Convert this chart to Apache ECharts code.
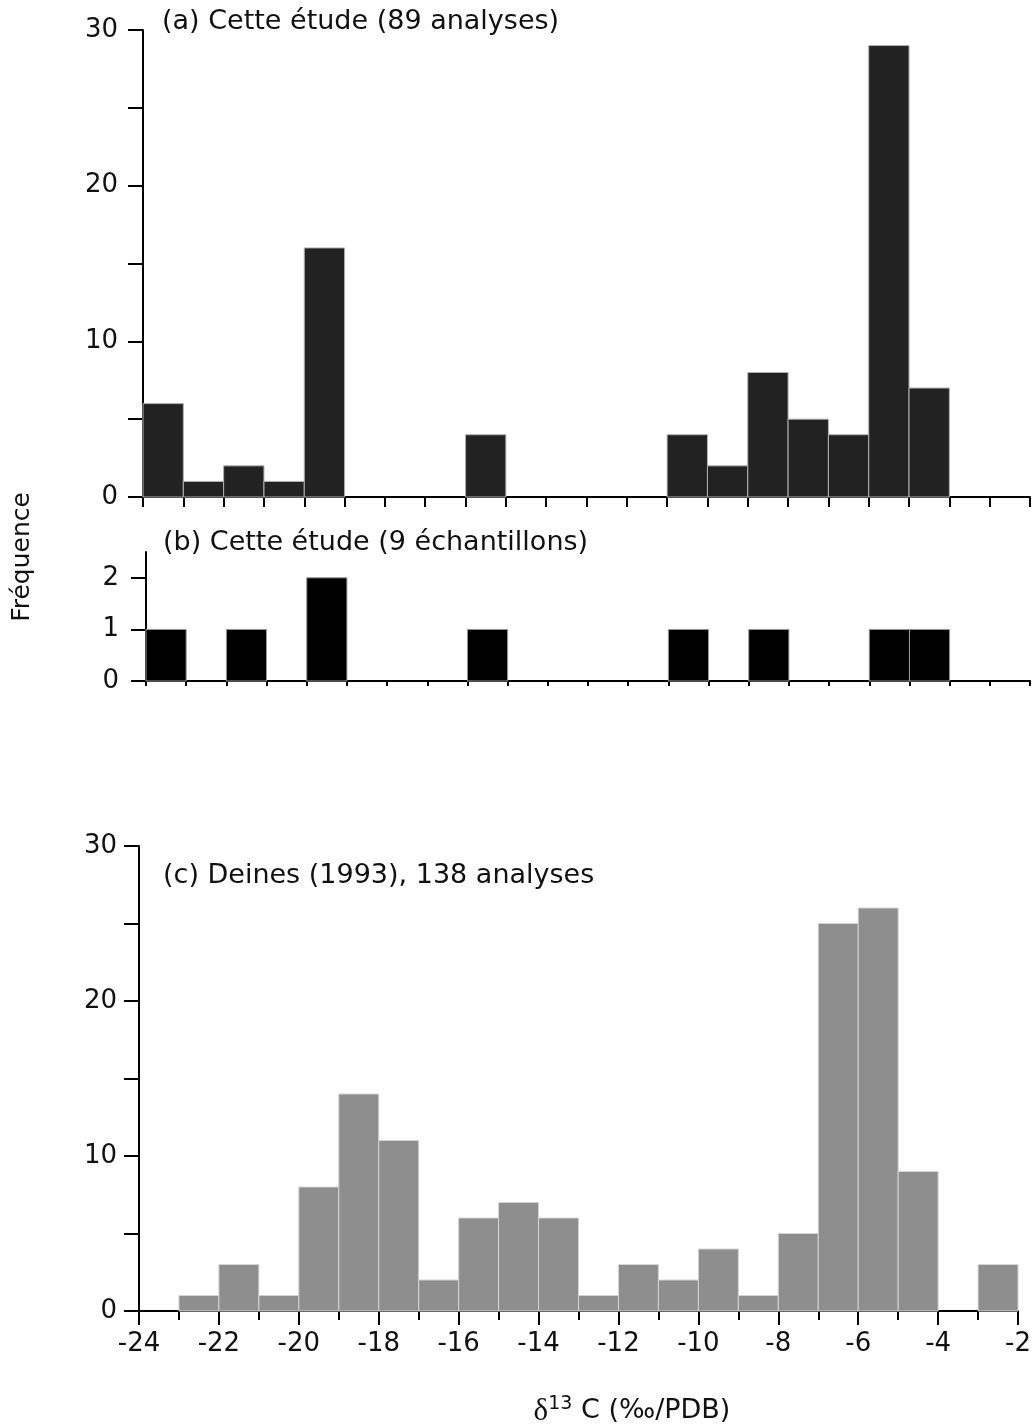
<!DOCTYPE html>
<html>
<head>
<meta charset="utf-8">
<script src="https://cdn.jsdelivr.net/npm/echarts@6/dist/echarts.min.js"></script>
<style>
  html, body { margin: 0; padding: 0; background: #fff; }
  #chart { width: 1034px; height: 1426px; }
</style>
</head>
<body>
<div id="chart"></div>
<script>
// left edge of each 1 ‰ bin
const binStarts = [-24, -23, -22, -21, -20, -19, -18, -17, -16, -15, -14,
                   -13, -12, -11, -10, -9, -8, -7, -6, -5, -4, -3];
// (a) Cette étude, 89 analyses
const countsA = [6, 1, 2, 1, 16, 0, 0, 0, 4, 0, 0, 0, 0, 4, 2, 8, 5, 4, 29, 7, 0, 0];
// (b) Cette étude, 9 échantillons
const countsB = [1, 0, 1, 0, 2, 0, 0, 0, 1, 0, 0, 0, 0, 1, 0, 1, 0, 0, 1, 1, 0, 0];
// (c) Deines (1993), 138 analyses
const countsC = [0, 1, 3, 1, 8, 14, 11, 2, 6, 7, 6, 1, 3, 2, 4, 1, 5, 25, 26, 9, 0, 3];

const titles = ['(a) Cette étude (89 analyses)', '(b) Cette étude (9 échantillons)', '(c) Deines (1993), 138 analyses'];
const yLabelsBig = [0, 10, 20, 30];
const yTicksBig = [0, 5, 10, 15, 20, 25, 30];
const yLabelsSmall = [0, 1, 2];

const FONT = 'DejaVu Sans';
const FS = 26;      // tick labels
const FT = 27;      // panel titles

let myChart = echarts.init(document.getElementById('chart'));

function binRenderer(fill, edge) {
    return function (params, api) {
        let x0 = api.value(0);
        let n = api.value(1);
        if (!n) return;
        let p0 = api.coord([x0, 0]);
        let p1 = api.coord([x0 + 1, n]);
        return {
            type: 'rect',
            shape: { x: p0[0], y: p1[1], width: p1[0] - p0[0], height: p0[1] - p1[1] },
            style: { fill: fill, stroke: edge, lineWidth: 1 }
        };
    };
}

function pairs(counts) {
    return binStarts.map((b, i) => [b, counts[i]]);
}

const axisLine = { show: true, onZero: false, lineStyle: { color: '#000', width: 2 } };

let option = {
    animation: false,
    backgroundColor: '#fff',
    grid: [
        { left: 143, top: 30, width: 887, height: 467 },
        { left: 146, top: 552, width: 884, height: 129 },
        { left: 139, top: 846, width: 884, height: 465 }
    ],
    xAxis: [
        {
            gridIndex: 0, type: 'value', min: -24, max: -2, interval: 1,
            axisLine: axisLine,
            axisTick: { show: true, length: 10, lineStyle: { color: '#000', width: 2 } },
            axisLabel: { show: false },
            splitLine: { show: false }
        },
        {
            gridIndex: 1, type: 'value', min: -24, max: -2, interval: 1,
            axisLine: axisLine,
            axisTick: { show: true, length: 5, lineStyle: { color: '#000', width: 2 } },
            axisLabel: { show: false },
            splitLine: { show: false }
        },
        {
            gridIndex: 2, type: 'value', min: -24, max: -2, interval: 2,
            axisLine: axisLine,
            axisTick: { show: true, length: 14, lineStyle: { color: '#000', width: 2 } },
            minorTick: { show: true, splitNumber: 2, length: 9, lineStyle: { color: '#000', width: 2 } },
            axisLabel: { fontFamily: FONT, fontSize: FS, color: '#111', margin: 20 },
            splitLine: { show: false }
        }
    ],
    yAxis: [
        {
            gridIndex: 0, type: 'value', min: 0, max: 30, interval: 5,
            axisLine: axisLine,
            axisTick: { show: true, length: 15, customValues: yTicksBig, lineStyle: { color: '#000', width: 2 } },
            axisLabel: { customValues: yLabelsBig, fontFamily: FONT, fontSize: FS, color: '#111', margin: 25 },
            splitLine: { show: false }
        },
        {
            gridIndex: 1, type: 'value', min: 0, max: 2.5, interval: 1,
            axisLine: axisLine,
            axisTick: { show: true, length: 15, customValues: yLabelsSmall, lineStyle: { color: '#000', width: 2 } },
            axisLabel: { customValues: yLabelsSmall, fontFamily: FONT, fontSize: FS, color: '#111', margin: 27 },
            splitLine: { show: false }
        },
        {
            gridIndex: 2, type: 'value', min: 0, max: 30, interval: 5,
            axisLine: axisLine,
            axisTick: { show: true, length: 15, customValues: yTicksBig, lineStyle: { color: '#000', width: 2 } },
            axisLabel: { customValues: yLabelsBig, fontFamily: FONT, fontSize: FS, color: '#111', margin: 22 },
            splitLine: { show: false }
        }
    ],
    series: [
        { type: 'custom', xAxisIndex: 0, yAxisIndex: 0, renderItem: binRenderer('#222222', '#b0b0b0'), data: pairs(countsA), z: 1 },
        { type: 'custom', xAxisIndex: 1, yAxisIndex: 1, renderItem: binRenderer('#000000', '#9a9a9a'), data: pairs(countsB), z: 1 },
        { type: 'custom', xAxisIndex: 2, yAxisIndex: 2, renderItem: binRenderer('#8e8e8e', '#d4d4d4'), data: pairs(countsC), z: 1 }
    ],
    graphic: [
        { type: 'text', left: 162, top: 8, style: { text: titles[0], font: FT + 'px "' + FONT + '"', fill: '#111' } },
        { type: 'text', left: 163, top: 529, style: { text: titles[1], font: FT + 'px "' + FONT + '"', fill: '#111' } },
        { type: 'text', left: 163, top: 862, style: { text: titles[2], font: FT + 'px "' + FONT + '"', fill: '#111' } },
        {
            type: 'text', x: 22, y: 557, rotation: Math.PI / 2,
            style: { text: 'Fréquence', font: '25px "' + FONT + '"', fill: '#111', align: 'center', verticalAlign: 'middle' }
        },
        {
            type: 'text', x: 632, y: 1411,
            style: {
                text: '{d|δ}{s|13}{t| C (‰/PDB)}',
                align: 'center', verticalAlign: 'middle',
                rich: {
                    d: { fontFamily: 'Liberation Serif', fontSize: 31, fill: '#111', verticalAlign: 'bottom' },
                    s: { fontFamily: FONT, fontSize: 19, fill: '#111', verticalAlign: 'top', padding: [0, 0, 14, 0] },
                    t: { fontFamily: FONT, fontSize: FT, fill: '#111' }
                }
            }
        }
    ]
};

option && myChart.setOption(option);
window.addEventListener('resize', () => {
    myChart.resize();
});
</script>
</body>
</html>
